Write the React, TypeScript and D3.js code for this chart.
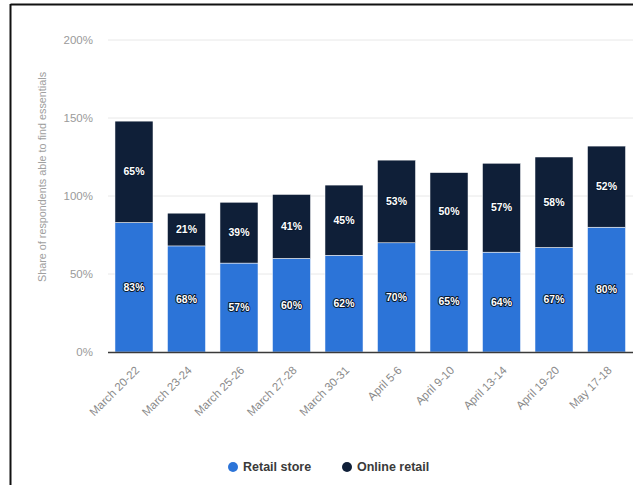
import React from "react";
import * as d3 from "d3";

const categories = [
  "March 20-22",
  "March 23-24",
  "March 25-26",
  "March 27-28",
  "March 30-31",
  "April 5-6",
  "April 9-10",
  "April 13-14",
  "April 19-20",
  "May 17-18",
];
const retailStore = [83, 68, 57, 60, 62, 70, 65, 64, 67, 80];
const onlineRetail = [65, 21, 39, 41, 45, 53, 50, 57, 58, 52];
const yTicks = [0, 50, 100, 150, 200];
const seriesNames = ["Retail store", "Online retail"];
const seriesColors = ["#2c74d8", "#0f1f38"];

const W = 633;
const H = 485;

export default function App() {
  const x = d3
    .scaleBand<string>()
    .domain(categories)
    .range([108, 632.5])
    .paddingInner(0.276)
    .paddingOuter(0.133);
  const y = d3.scaleLinear().domain([0, 200]).range([352, 40]);

  const rows = categories.map((c, i) => ({
    cat: c,
    retail: retailStore[i],
    online: onlineRetail[i],
  }));
  const stacked = d3.stack<any>().keys(["retail", "online"])(rows);

  const labelStyle: React.CSSProperties = {
    paintOrder: "stroke",
  };

  return (
    <svg
      width={W}
      height={H}
      style={{ position: "absolute", left: 0, top: 0, background: "#fff" }}
      fontFamily="'Liberation Sans', Arial, sans-serif"
    >
      {/* frame */}
      <line x1={10.5} x2={W} y1={4.5} y2={4.5} stroke="#111" strokeWidth={2} />
      <line x1={10.5} x2={10.5} y1={4} y2={H} stroke="#111" strokeWidth={2} />

      {/* gridlines */}
      {yTicks.map((t) => (
        <g key={t}>
          {t !== 0 && (
            <line x1={108} x2={W} y1={y(t)} y2={y(t)} stroke="#e8e8e8" strokeWidth={1} />
          )}
          <text
            x={93}
            y={y(t)}
            dy="0.35em"
            textAnchor="end"
            fontSize={11.5}
            fill="#9a9a9a"
          >
            {t}%
          </text>
        </g>
      ))}

      {/* y title */}
      <text
        transform={`translate(46,177) rotate(-90)`}
        textAnchor="middle"
        fontSize={10.8}
        fill="#a0a0a0"
      >
        Share of respondents able to find essentials
      </text>

      {/* bars */}
      {stacked.map((s, si) => (
        <g key={s.key}>
          {s.map((d: any, i: number) => (
            <rect
              key={i}
              x={x(categories[i])}
              width={x.bandwidth()}
              y={y(d[1])}
              height={y(d[0]) - y(d[1])}
              fill={seriesColors[si]}
              stroke="#fff"
              strokeWidth={0.5}
            />
          ))}
        </g>
      ))}

      {/* value labels */}
      {stacked.map((s, si) => (
        <g key={"l" + s.key}>
          {s.map((d: any, i: number) => (
            <text
              key={i}
              x={(x(categories[i]) as number) + x.bandwidth() / 2}
              y={(y(d[0]) + y(d[1])) / 2}
              dy="0.35em"
              textAnchor="middle"
              fontSize={10.5}
              fontWeight="bold"
              fill="#fff"
              stroke="#0a1a30"
              strokeWidth={2}
              strokeLinejoin="round"
              style={labelStyle}
            >
              {d[1] - d[0]}%
            </text>
          ))}
        </g>
      ))}

      {/* baseline */}
      <line x1={108} x2={W} y1={352.5} y2={352.5} stroke="#3a3a3a" strokeWidth={1.5} />

      {/* x labels */}
      {categories.map((c) => {
        const cx = (x(c) as number) + x.bandwidth() / 2 + 6;
        const cy = 371;
        return (
          <text
            key={c}
            transform={`translate(${cx},${cy}) rotate(-45)`}
            textAnchor="end"
            fontSize={11.5}
            fill="#8a8a8a"
          >
            {c}
          </text>
        );
      })}

      {/* legend */}
      {seriesNames.map((n, i) => {
        const lx = i === 0 ? 233 : 347;
        return (
          <g key={n}>
            <circle cx={lx} cy={467} r={5} fill={seriesColors[i]} />
            <text
              x={lx + 10}
              y={467}
              dy="0.35em"
              fontSize={12.5}
              fontWeight="bold"
              fill="#3a3a3a"
            >
              {n}
            </text>
          </g>
        );
      })}
    </svg>
  );
}
